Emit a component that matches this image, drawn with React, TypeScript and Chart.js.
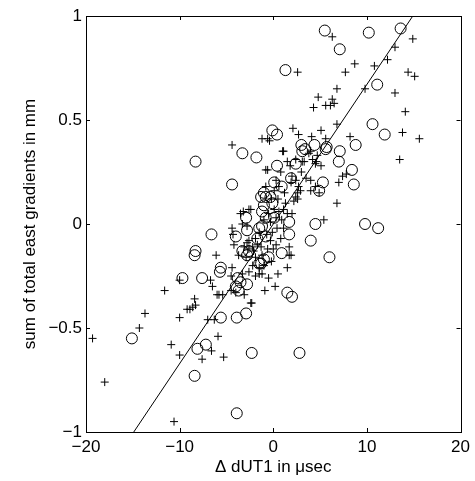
import React, { useEffect, useRef } from "react";
import { Chart, registerables } from "chart.js";

Chart.register(...registerables);

const xTicks = [-20, -10, 0, 10, 20];
const yTicks = [-1, -0.5, 0, 0.5, 1];

const crossPoints: [number, number][] = [
  [-19.3, -0.55], [-18.0, -0.76], [-14.3, -0.5], [-13.7, -0.43], [-11.6, -0.32], [-10.9, -0.58],
  [-10.0, -0.63], [-10.0, -0.45], [-10.0, -0.27], [-10.6, -0.95], [-9.2, -0.41], [-8.9, -0.41],
  [-8.6, -0.4], [-8.3, -0.39], [-8.4, -0.36], [-7.6, -0.65], [-7.0, -0.46], [-6.6, -0.61],
  [-6.3, -0.46], [-6.1, -0.15], [-6.7, -0.27], [-6.5, -0.3], [-6.0, -0.34], [-5.9, -0.54],
  [-5.4, -0.34], [-5.8, -0.34], [-5.3, -0.64], [-4.5, -0.32], [-4.4, 0.38], [-4.4, -0.21],
  [-4.5, -0.25], [-4.0, -0.33], [-4.4, -0.02], [-4.3, -0.05], [-4.2, -0.1], [-3.7, -0.15],
  [-3.5, 0.05], [-3.3, 0.0], [-3.3, -0.24], [-3.2, 0.06], [-3.1, -0.34], [-3.1, -0.11],
  [-2.9, -0.16], [-2.8, -0.09], [-2.8, -0.01], [-2.6, -0.23], [-2.6, -0.08], [-2.6, -0.12],
  [-2.6, 0.07], [-2.4, 0.07], [-2.4, -0.38], [-2.3, -0.38], [-2.2, -0.11], [-2.2, -0.2],
  [-2.1, -0.13], [-1.9, -0.25], [-1.9, -0.16], [-1.9, -0.07], [-1.5, -0.24], [-1.5, -0.04],
  [-1.5, -0.21], [-1.3, -0.11], [-1.2, 0.41], [-1.2, -0.24], [-1.2, -0.15], [-1.0, -0.2],
  [-0.8, 0.26], [-0.8, 0.18], [-0.6, 0.41], [-0.6, 0.26], [-0.7, -0.05], [-0.4, 0.4],
  [-0.3, 0.01], [-0.3, -0.08], [-0.1, -0.04], [0.1, 0.07], [0.1, 0.16], [0.3, 0.21],
  [0.3, 0.03], [0.3, -0.1], [0.4, -0.02], [0.5, -0.24], [0.6, 0.06], [0.8, -0.07],
  [1.0, 0.35], [1.1, 0.07], [1.1, 0.35], [1.1, -0.02], [1.5, 0.05], [1.5, 0.3],
  [1.5, -0.21], [1.7, -0.11], [1.7, -0.15], [1.9, -0.15], [1.9, 0.2], [2.0, 0.23],
  [2.1, 0.46], [2.2, 0.11], [2.4, 0.21], [2.4, 0.13], [2.4, 0.31], [2.6, 0.73],
  [2.6, 0.15], [2.6, 0.12], [2.7, 0.43], [2.7, 0.18], [2.9, 0.16], [3.1, 0.3],
  [3.3, 0.3], [3.8, 0.34], [4.0, 0.35], [4.0, 0.21], [4.0, 0.16], [4.1, 0.42],
  [4.2, 0.31], [4.3, 0.56], [4.5, 0.29], [4.5, 0.18], [4.6, 0.3], [4.7, 0.33],
  [4.8, 0.61], [4.9, 0.15], [5.1, 0.45], [5.1, 0.28], [5.4, 0.02], [5.6, 0.57],
  [5.6, 0.41], [6.1, 0.57], [6.3, 0.9], [6.3, 0.6], [6.5, 0.58], [6.8, 0.65],
  [6.8, 0.48], [6.8, 0.1], [7.0, 0.2], [7.4, 0.23], [7.7, 0.73], [7.8, 0.24],
  [8.2, 0.42], [8.7, 0.77], [9.8, 0.65], [10.8, 0.76], [12.2, 0.79], [13.0, 0.85],
  [13.0, 0.63], [13.5, 0.31], [13.8, 0.44], [14.1, 0.54], [14.4, 0.73], [14.9, 0.89],
  [15.1, 0.71], [15.6, 0.41], [-0.5, 0.05], [0.0, -0.12], [-1.0, 0.02], [-0.2, -0.18],
  [0.5, 0.12], [1.2, 0.15], [0.8, 0.25], [-0.5, -0.26], [-0.9, -0.32], [0.2, -0.3],
  [0.6, 0.18], [1.3, 0.1], [-0.2, 0.12], [2.0, 0.05], [1.8, 0.28], [3.5, 0.22],
  [3.0, 0.25], [-1.7, -0.1], [-0.6, -0.12], [0.9, 0.02],
];

const circlePoints: [number, number][] = [
  [-15.1, -0.55], [-9.7, -0.26], [-8.3, 0.3], [-8.3, -0.13], [-8.4, -0.15], [-8.4, -0.73],
  [-8.1, -0.6], [-7.2, -0.58], [-7.6, -0.26], [-6.6, -0.05], [-5.6, -0.21], [-5.7, -0.23],
  [-5.6, -0.45], [-4.4, 0.19], [-4.0, -0.3], [-4.0, -0.06], [-3.9, -0.45], [-3.9, -0.91],
  [-3.8, -0.26], [-3.7, -0.32], [-3.5, -0.28], [-3.3, 0.34], [-3.3, -0.13], [-2.9, 0.03],
  [-2.9, -0.43], [-2.8, -0.03], [-2.8, -0.29], [-2.8, -0.15], [-2.6, -0.13], [-2.3, -0.62],
  [-1.8, 0.32], [-1.7, -0.07], [-1.5, -0.02], [-1.5, -0.19], [-1.3, 0.13], [-1.3, -0.19],
  [-1.2, 0.06], [-1.2, -0.01], [-1.0, 0.15], [-1.0, 0.09], [-1.0, -0.17], [-0.8, 0.03],
  [-0.8, 0.13], [-0.8, -0.06], [-0.5, -0.16], [-0.3, 0.13], [-0.1, 0.45], [-0.1, 0.1],
  [0.1, 0.2], [0.1, 0.03], [0.4, 0.43], [0.4, 0.28], [0.9, 0.18], [0.9, -0.14],
  [1.3, 0.74], [1.5, -0.33], [1.7, 0.01], [1.7, -0.05], [1.9, 0.22], [2.0, -0.35],
  [2.4, 0.29], [2.8, -0.62], [3.0, 0.38], [3.1, 0.35], [3.4, 0.36], [4.0, -0.08],
  [4.4, 0.38], [4.5, 0.0], [4.9, 0.16], [5.3, 0.2], [5.5, 0.93], [5.6, 0.36],
  [5.7, 0.37], [6.0, -0.16], [7.0, 0.3], [7.1, 0.84], [7.1, 0.35], [8.4, 0.26],
  [8.6, 0.19], [8.8, 0.38], [9.8, 0.0], [10.2, 0.92], [10.6, 0.48], [11.1, 0.67],
  [11.2, -0.02], [11.9, 0.43], [13.6, 0.94],
];

const fitLineX = [-14.9, 14.9];
const fitLineY = [-1, 1];

const FONT = "'Liberation Sans', Arial, Helvetica, sans-serif";
const fmt = (v: number | string) => String(v).replace("-", "\u2212");

const framePlugin = {
  id: "frame",
  afterDraw(chart: any) {
    const { ctx, chartArea: a, scales } = chart;
    const len = 4;
    ctx.save();
    ctx.strokeStyle = "#000";
    ctx.lineWidth = 1;
    ctx.strokeRect(Math.round(a.left) + 0.5, Math.round(a.top) + 0.5, Math.round(a.right - a.left), Math.round(a.bottom - a.top));
    ctx.beginPath();
    xTicks.forEach((t) => {
      const px = Math.round(scales.x.getPixelForValue(t)) + 0.5;
      ctx.moveTo(px, a.bottom);
      ctx.lineTo(px, a.bottom - len);
      ctx.moveTo(px, a.top);
      ctx.lineTo(px, a.top + len);
    });
    yTicks.forEach((t) => {
      const py = Math.round(scales.y.getPixelForValue(t)) + 0.5;
      ctx.moveTo(a.left, py);
      ctx.lineTo(a.left + len, py);
      ctx.moveTo(a.right, py);
      ctx.lineTo(a.right - len, py);
    });
    ctx.stroke();
    ctx.restore();
  },
};

export default function App() {
  const ref = useRef<HTMLCanvasElement>(null);
  useEffect(() => {
    document.body.style.margin = "0";
    const chart = new Chart(ref.current!, {
      type: "scatter",
      data: {
        datasets: [
          {
            data: crossPoints.map(([x, y]) => ({ x, y })),
            pointStyle: "cross",
            pointRadius: 4,
            borderColor: "#000",
            backgroundColor: "#000",
            borderWidth: 1,
          },
          {
            data: circlePoints.map(([x, y]) => ({ x, y })),
            pointStyle: "circle",
            pointRadius: 5.5,
            borderColor: "#000",
            backgroundColor: "rgba(0,0,0,0)",
            borderWidth: 1,
          },
          {
            type: "line",
            data: fitLineX.map((x, i) => ({ x, y: fitLineY[i] })),
            borderColor: "#000",
            borderWidth: 1,
            pointRadius: 0,
            showLine: true,
            fill: false,
          } as any,
        ],
      },
      options: {
        responsive: false,
        animation: false,
        devicePixelRatio: 1,
        events: [],
        layout: { padding: { left: 0, top: 16, right: 14, bottom: 0 } },
        plugins: { legend: { display: false }, tooltip: { enabled: false } },
        scales: {
          x: {
            type: "linear",
            min: -20,
            max: 20,
            afterBuildTicks: (s: any) => { s.ticks = xTicks.map((v) => ({ value: v })); },
            afterFit: (s: any) => { s.height = 49; },
            grid: { display: false, drawTicks: false },
            border: { display: false },
            ticks: { color: "#000", font: { family: FONT, size: 17 }, padding: 5, maxRotation: 0, callback: (v: any) => fmt(v) },
            title: { display: true, text: "\u0394 dUT1 in \u03bcsec", color: "#000", font: { family: FONT, size: 17 }, padding: { top: 0, bottom: 3 } },
          },
          y: {
            type: "linear",
            min: -1,
            max: 1,
            afterBuildTicks: (s: any) => { s.ticks = yTicks.map((v) => ({ value: v })); },
            afterFit: (s: any) => { s.width = 86; },
            grid: { display: false, drawTicks: false },
            border: { display: false },
            ticks: { color: "#000", font: { family: FONT, size: 17 }, padding: 4, callback: (v: any) => fmt(v) },
            title: { display: true, text: "sum of total east gradients in mm", color: "#000", font: { family: FONT, size: 17 }, padding: { top: 20, bottom: 0 } },
          },
        },
      },
      plugins: [framePlugin],
    });
    return () => chart.destroy();
  }, []);
  return <canvas ref={ref} width={475} height={481} style={{ display: "block" }} />;
}
